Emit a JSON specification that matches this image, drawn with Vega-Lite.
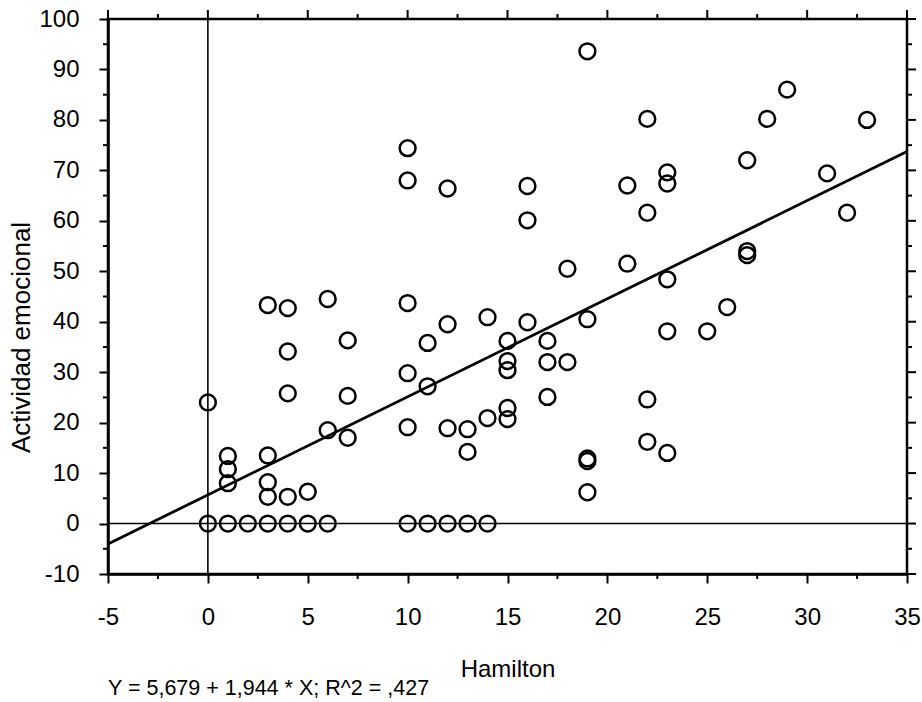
{
  "$schema": "https://vega.github.io/schema/vega-lite/v6.json",
  "autosize": {"type": "none"},
  "padding": {"left": 108, "top": 19, "right": 15, "bottom": 128},
  "width": 799,
  "height": 555,
  "background": "white",
  "config": {
    "font": "Liberation Sans",
    "view": {"stroke": "black", "strokeWidth": 2.5},
    "axis": {
      "domainColor": "black", "domainWidth": 2.5,
      "tickColor": "black", "tickWidth": 2, "tickSize": 9,
      "labelColor": "black", "labelFontSize": 24, "labelFont": "Liberation Sans",
      "titleColor": "black", "titleFontSize": 24, "titleFont": "Liberation Sans", "titleFontWeight": "normal",
      "grid": false
    }
  },
  "title": {
    "text": "Y = 5,679 + 1,944 * X; R^2 = ,427",
    "orient": "bottom", "anchor": "start", "frame": "group",
    "fontSize": 21.5, "fontWeight": "normal", "color": "black", "font": "Liberation Sans",
    "offset": -3
  },
  "datasets": {
    "pts": [
      {"hamilton": 0, "actividad": 24}, {"hamilton": 0, "actividad": 0}, {"hamilton": 1, "actividad": 0},
      {"hamilton": 2, "actividad": 0}, {"hamilton": 3, "actividad": 0}, {"hamilton": 4, "actividad": 0},
      {"hamilton": 5, "actividad": 0}, {"hamilton": 6, "actividad": 0}, {"hamilton": 10, "actividad": 0},
      {"hamilton": 11, "actividad": 0}, {"hamilton": 12, "actividad": 0}, {"hamilton": 13, "actividad": 0},
      {"hamilton": 14, "actividad": 0},
      {"hamilton": 1, "actividad": 13.4}, {"hamilton": 1, "actividad": 10.8}, {"hamilton": 1, "actividad": 8},
      {"hamilton": 3, "actividad": 43.3}, {"hamilton": 3, "actividad": 13.5}, {"hamilton": 3, "actividad": 8.2}, {"hamilton": 3, "actividad": 5.3},
      {"hamilton": 4, "actividad": 42.7}, {"hamilton": 4, "actividad": 34.1}, {"hamilton": 4, "actividad": 25.8}, {"hamilton": 4, "actividad": 5.3},
      {"hamilton": 5, "actividad": 6.3},
      {"hamilton": 6, "actividad": 44.5}, {"hamilton": 6, "actividad": 18.5},
      {"hamilton": 7, "actividad": 36.3}, {"hamilton": 7, "actividad": 25.3}, {"hamilton": 7, "actividad": 17},
      {"hamilton": 10, "actividad": 74.4}, {"hamilton": 10, "actividad": 68}, {"hamilton": 10, "actividad": 43.7}, {"hamilton": 10, "actividad": 29.8}, {"hamilton": 10, "actividad": 19.1},
      {"hamilton": 11, "actividad": 35.8}, {"hamilton": 11, "actividad": 27.2},
      {"hamilton": 12, "actividad": 66.4}, {"hamilton": 12, "actividad": 39.5}, {"hamilton": 12, "actividad": 18.9},
      {"hamilton": 13, "actividad": 18.7}, {"hamilton": 13, "actividad": 14.2},
      {"hamilton": 14, "actividad": 40.9}, {"hamilton": 14, "actividad": 20.9},
      {"hamilton": 15, "actividad": 36.2}, {"hamilton": 15, "actividad": 32.2}, {"hamilton": 15, "actividad": 30.4}, {"hamilton": 15, "actividad": 22.9}, {"hamilton": 15, "actividad": 20.7},
      {"hamilton": 16, "actividad": 66.9}, {"hamilton": 16, "actividad": 60.1}, {"hamilton": 16, "actividad": 39.9},
      {"hamilton": 17, "actividad": 36.2}, {"hamilton": 17, "actividad": 32}, {"hamilton": 17, "actividad": 25.1},
      {"hamilton": 18, "actividad": 50.5}, {"hamilton": 18, "actividad": 32},
      {"hamilton": 19, "actividad": 93.6}, {"hamilton": 19, "actividad": 40.5}, {"hamilton": 19, "actividad": 12.9}, {"hamilton": 19, "actividad": 12.4}, {"hamilton": 19, "actividad": 6.2},
      {"hamilton": 21, "actividad": 67}, {"hamilton": 21, "actividad": 51.5},
      {"hamilton": 22, "actividad": 80.2}, {"hamilton": 22, "actividad": 61.6}, {"hamilton": 22, "actividad": 24.6}, {"hamilton": 22, "actividad": 16.2},
      {"hamilton": 23, "actividad": 69.6}, {"hamilton": 23, "actividad": 67.4}, {"hamilton": 23, "actividad": 48.4}, {"hamilton": 23, "actividad": 38.1}, {"hamilton": 23, "actividad": 14},
      {"hamilton": 25, "actividad": 38.1}, {"hamilton": 26, "actividad": 42.9},
      {"hamilton": 27, "actividad": 72}, {"hamilton": 27, "actividad": 54}, {"hamilton": 27, "actividad": 53.2},
      {"hamilton": 28, "actividad": 80.2}, {"hamilton": 29, "actividad": 86}, {"hamilton": 31, "actividad": 69.4},
      {"hamilton": 32, "actividad": 61.6}, {"hamilton": 33, "actividad": 80}
    ],
    "fit": [
      {"hamilton": -5, "actividad": -4.041},
      {"hamilton": 35, "actividad": 73.719}
    ],
    "one": [{}],
    "xticks": [
      {"hamilton": -5, "kind": "major"}, {"hamilton": -2.5, "kind": "minor"}, {"hamilton": 0, "kind": "major"},
      {"hamilton": 2.5, "kind": "minor"}, {"hamilton": 5, "kind": "major"}, {"hamilton": 7.5, "kind": "minor"},
      {"hamilton": 10, "kind": "major"}, {"hamilton": 12.5, "kind": "minor"}, {"hamilton": 15, "kind": "major"},
      {"hamilton": 17.5, "kind": "minor"}, {"hamilton": 20, "kind": "major"}, {"hamilton": 22.5, "kind": "minor"},
      {"hamilton": 25, "kind": "major"}, {"hamilton": 27.5, "kind": "minor"}, {"hamilton": 30, "kind": "major"},
      {"hamilton": 32.5, "kind": "minor"}, {"hamilton": 35, "kind": "major"}
    ],
    "yticks": [
      {"actividad": -10, "kind": "major"}, {"actividad": -5, "kind": "minor"}, {"actividad": 0, "kind": "major"},
      {"actividad": 5, "kind": "minor"}, {"actividad": 10, "kind": "major"}, {"actividad": 15, "kind": "minor"},
      {"actividad": 20, "kind": "major"}, {"actividad": 25, "kind": "minor"}, {"actividad": 30, "kind": "major"},
      {"actividad": 35, "kind": "minor"}, {"actividad": 40, "kind": "major"}, {"actividad": 45, "kind": "minor"},
      {"actividad": 50, "kind": "major"}, {"actividad": 55, "kind": "minor"}, {"actividad": 60, "kind": "major"},
      {"actividad": 65, "kind": "minor"}, {"actividad": 70, "kind": "major"}, {"actividad": 75, "kind": "minor"},
      {"actividad": 80, "kind": "major"}, {"actividad": 85, "kind": "minor"}, {"actividad": 90, "kind": "major"},
      {"actividad": 95, "kind": "minor"}, {"actividad": 100, "kind": "major"}
    ]
  },
  "layer": [
    {
      "data": {"name": "pts"},
      "mark": {"type": "point", "shape": "circle", "filled": false, "color": "black", "size": 250, "strokeWidth": 2.5, "opacity": 1},
      "encoding": {
        "x": {
          "field": "hamilton", "type": "quantitative",
          "scale": {"domain": [-5, 35], "nice": false, "zero": false},
          "axis": {
            "orient": "bottom", "title": "Hamilton", "titlePadding": 28,
            "values": [-5, 0, 5, 10, 15, 20, 25, 30, 35],
            "labelExpr": "'' + datum.value",
            "labelPadding": 22, "labelFlush": false, "labelOverlap": false
          }
        },
        "y": {
          "field": "actividad", "type": "quantitative",
          "scale": {"domain": [-10, 100], "nice": false, "zero": false},
          "axis": {
            "orient": "left", "title": "Actividad emocional", "titlePadding": 4,
            "titleFontSize": 26, "titleY": 318,
            "values": [-10, 0, 10, 20, 30, 40, 50, 60, 70, 80, 90, 100],
            "labelExpr": "'' + datum.value",
            "labelPadding": 20, "labelFlush": false, "labelOverlap": false
          }
        }
      }
    },
    {
      "data": {"name": "one"},
      "mark": {"type": "rule", "color": "black", "strokeWidth": 1.6},
      "encoding": {"x": {"datum": 0, "type": "quantitative"}}
    },
    {
      "data": {"name": "one"},
      "mark": {"type": "rule", "color": "black", "strokeWidth": 1.6},
      "encoding": {"y": {"datum": 0, "type": "quantitative"}}
    },
    {
      "data": {"name": "fit"},
      "mark": {"type": "line", "color": "black", "strokeWidth": 2.8},
      "encoding": {
        "x": {"field": "hamilton", "type": "quantitative"},
        "y": {"field": "actividad", "type": "quantitative"}
      }
    },
    {
      "data": {"name": "xticks"},
      "transform": [{"filter": "datum.kind === 'major'"}],
      "mark": {"type": "tick", "orient": "vertical", "color": "black", "thickness": 2, "opacity": 1, "size": 9, "yOffset": -4.5},
      "encoding": {
        "x": {"field": "hamilton", "type": "quantitative"},
        "y": {"datum": 100, "type": "quantitative"}
      }
    },
    {
      "data": {"name": "xticks"},
      "transform": [{"filter": "datum.kind === 'minor'"}],
      "mark": {"type": "tick", "orient": "vertical", "color": "black", "thickness": 2, "opacity": 1, "size": 5, "yOffset": -2.5},
      "encoding": {
        "x": {"field": "hamilton", "type": "quantitative"},
        "y": {"datum": 100, "type": "quantitative"}
      }
    },
    {
      "data": {"name": "xticks"},
      "transform": [{"filter": "datum.kind === 'minor'"}],
      "mark": {"type": "tick", "orient": "vertical", "color": "black", "thickness": 2, "opacity": 1, "size": 5, "yOffset": 2.5},
      "encoding": {
        "x": {"field": "hamilton", "type": "quantitative"},
        "y": {"datum": -10, "type": "quantitative"}
      }
    },
    {
      "data": {"name": "yticks"},
      "transform": [{"filter": "datum.kind === 'major'"}],
      "mark": {"type": "tick", "orient": "horizontal", "color": "black", "thickness": 2, "opacity": 1, "size": 9, "xOffset": 4.5},
      "encoding": {
        "y": {"field": "actividad", "type": "quantitative"},
        "x": {"datum": 35, "type": "quantitative"}
      }
    },
    {
      "data": {"name": "yticks"},
      "transform": [{"filter": "datum.kind === 'minor'"}],
      "mark": {"type": "tick", "orient": "horizontal", "color": "black", "thickness": 2, "opacity": 1, "size": 5, "xOffset": 2.5},
      "encoding": {
        "y": {"field": "actividad", "type": "quantitative"},
        "x": {"datum": 35, "type": "quantitative"}
      }
    },
    {
      "data": {"name": "yticks"},
      "transform": [{"filter": "datum.kind === 'minor'"}],
      "mark": {"type": "tick", "orient": "horizontal", "color": "black", "thickness": 2, "opacity": 1, "size": 5, "xOffset": -2.5},
      "encoding": {
        "y": {"field": "actividad", "type": "quantitative"},
        "x": {"datum": -5, "type": "quantitative"}
      }
    }
  ]
}
